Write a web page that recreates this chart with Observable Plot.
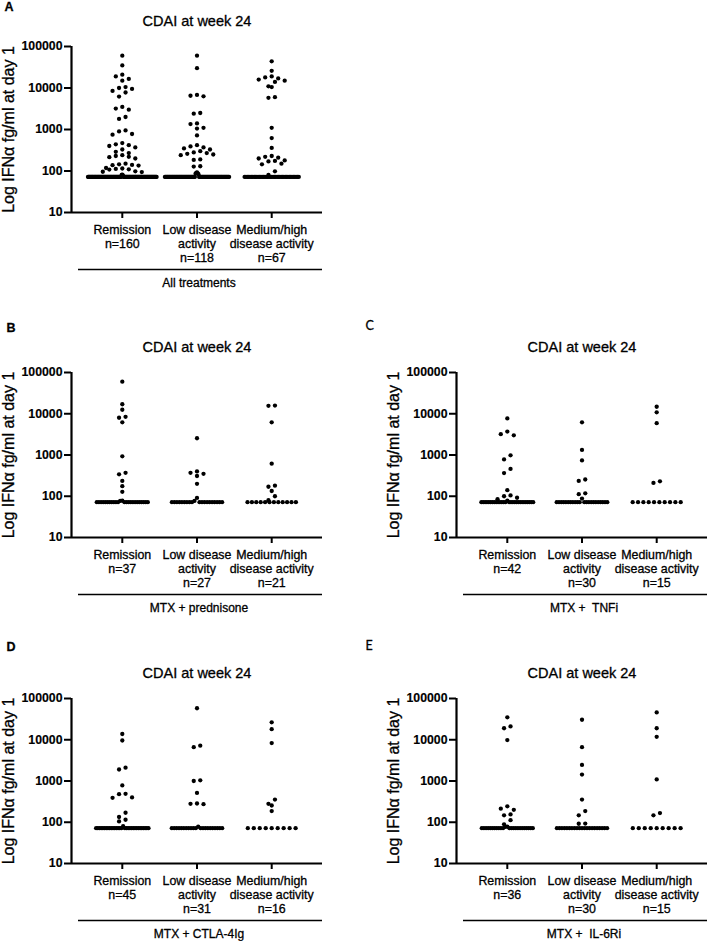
<!DOCTYPE html>
<html><head><meta charset="utf-8">
<script src="https://cdn.jsdelivr.net/npm/d3@7"></script>
<script src="https://cdn.jsdelivr.net/npm/@observablehq/plot@0.6"></script>
<style>
html,body{margin:0;padding:0;background:#fff;}
#root{position:relative;width:709px;height:941px;overflow:hidden;background:#fff;}
.panel{position:absolute;}
.panel svg{overflow:visible;display:block;}
.panel svg text{paint-order:stroke;stroke:#000;stroke-width:0.3px;}
.panel svg [aria-label="y-axis tick label"]{font-weight:bold;}
.panel svg [aria-label="y-axis tick label"] text{stroke-width:0.15px;}
</style></head><body><div id="root"></div>
<script>
// ---------- data ----------
const categories = ["Remission", "Low disease\nactivity", "Medium/high\ndisease activity"];
const yTicks = [10, 100, 1000, 10000, 100000];
const chartTitle = "CDAI at week 24";
const yLabel = "Log IFNα fg/ml at day 1";
const LLOQ = 72; // values at the lower limit are drawn on this line

// A: All treatments
const allN = [160, 118, 67];
const allRemission = [60000, 35000, 21000, 19000, 16500, 15000, 10500, 10000, 9500, 8500, 7800, 6200, 3500, 3200, 3000, 2000, 1800, 950, 900, 780, 750, 470, 440, 420, 400, 370, 330, 290, 270, 240, 230, 220, 215, 200, 150, 145, 140, 138, 135, 118, 115, 112, 110, 108, 98, 96, 94, 82, 80, 78];
const allLow = [60000, 30000, 6800, 6500, 6300, 2500, 2400, 1400, 1350, 1100, 1050, 720, 420, 390, 370, 350, 330, 300, 280, 270, 260, 250, 240, 190, 185, 130, 128, 92, 90, 88, 86, 84];
const allMedHigh = [44000, 26000, 19000, 18000, 17000, 16000, 15000, 14000, 11000, 10500, 6000, 5800, 1100, 620, 360, 230, 220, 210, 200, 180, 175, 170, 150, 145, 98, 80];

// B: MTX + prednisone
const predN = [37, 27, 21];
const predRemission = [60000, 17000, 12500, 8400, 8000, 6200, 930, 370, 340, 235, 175, 128, 78, 77];
const predLow = [2550, 400, 370, 350, 310, 200, 91, 77];
const predMedHigh = [15800, 15600, 6200, 615, 180, 170, 134, 100, 80];

// C: MTX + TNFi
const tnfN = [42, 30, 15];
const tnfRemission = [7700, 3700, 3200, 3000, 980, 780, 460, 365, 140, 105, 100, 92, 85, 78];
const tnfLow = [6200, 1330, 740, 255, 235, 118, 112, 88];
const tnfMedHigh = [14800, 10800, 5900, 230, 210];

// D: MTX + CTLA-4Ig
const ctlaN = [45, 31, 16];
const ctlaRemission = [13800, 9600, 2100, 1900, 780, 490, 480, 400, 390, 170, 134, 115, 105, 80];
const ctlaLow = [58000, 7200, 6600, 1040, 1000, 515, 285, 280, 275, 78];
const ctlaMedHigh = [26500, 18000, 8300, 355, 280, 255, 187];

// E: MTX + IL-6Ri
const il6N = [36, 30, 15];
const il6Remission = [35000, 21000, 19000, 9800, 243, 213, 200, 155, 147, 112, 89, 78, 77];
const il6Low = [30500, 6600, 2450, 1430, 355, 187, 147, 93, 92];
const il6MedHigh = [46000, 19000, 11800, 1090, 167, 147];

const panels = [
  {letter: "A", treatment: "All treatments", n: allN, series: [allRemission, allLow, allMedHigh]},
  {letter: "B", treatment: "MTX + prednisone", n: predN, series: [predRemission, predLow, predMedHigh]},
  {letter: "C", treatment: "MTX +  TNFi", n: tnfN, series: [tnfRemission, tnfLow, tnfMedHigh]},
  {letter: "D", treatment: "MTX + CTLA-4Ig", n: ctlaN, series: [ctlaRemission, ctlaLow, ctlaMedHigh]},
  {letter: "E", treatment: "MTX +  IL-6Ri", n: il6N, series: [il6Remission, il6Low, il6MedHigh]}
];

// ---------- layout ----------
const X0 = -0.68, X1 = 2.68;
const FRAME_W = 251;
const layouts = [
  {left: 0,   top: 0,   width: 355, ml: 71,  mr: 33, mt: 46, fh: 166, mb: 80, letterDx: -67, letterDy: -40, letterFont: '"Liberation Sans", Arial, sans-serif', letterWeight: "bold"},
  {left: 0,   top: 300, width: 355, ml: 71,  mr: 33, mt: 72, fh: 165, mb: 80, letterDx: -65, letterDy: -45, letterFont: '"Liberation Sans", Arial, sans-serif', letterWeight: "bold"},
  {left: 355, top: 300, width: 354, ml: 101, mr: 2,  mt: 72, fh: 165, mb: 80, letterDx: -91, letterDy: -47, letterFont: 'Lato, "Open Sans", sans-serif', letterWeight: "normal"},
  {left: 0,   top: 620, width: 355, ml: 71,  mr: 33, mt: 78, fh: 165, mb: 78, letterDx: -65, letterDy: -52, letterFont: '"Liberation Sans", Arial, sans-serif', letterWeight: "bold"},
  {left: 355, top: 620, width: 354, ml: 101, mr: 2,  mt: 78, fh: 165, mb: 78, letterDx: -91, letterDy: -53, letterFont: 'Lato, "Open Sans", sans-serif', letterWeight: "normal"}
];

const DOT_GAP = 6.5, ROW_GAP = 4.5;

function scatterPoints(series, ns, frameH) {
  const pxPerUnit = FRAME_W / (X1 - X0);
  const ypx = v => frameH * (Math.log10(v) - 1) / 4;
  const pts = [];
  series.forEach((vals, ci) => {
    const all = vals.concat(Array(Math.max(0, ns[ci] - vals.length)).fill(LLOQ)).sort((a, b) => b - a);
    const rows = [];
    for (const v of all) {
      const r = rows[rows.length - 1];
      if (r && ypx(r[0]) - ypx(v) < ROW_GAP) r.push(v); else rows.push([v]);
    }
    for (const r of rows) {
      const k = r.length;
      const maxW = 46 + 0.2 * k;
      const s = k > 1 ? Math.min(DOT_GAP, maxW / (k - 1)) : 0;
      const ordered = [];
      r.forEach((v, i) => { if (i % 2 === 0) ordered.push(v); else ordered.unshift(v); });
      ordered.forEach((v, i) => pts.push({cat: ci, v, x: ci + (i - (k - 1) / 2) * s / pxPerUnit}));
    }
  });
  return pts;
}

const root = document.getElementById("root");
panels.forEach((p, idx) => {
  const L = layouts[idx];
  const pts = scatterPoints(p.series, p.n, L.fh);
  const underlineStart = X0 + 7 * (X1 - X0) / FRAME_W;
  const svg = Plot.plot({
    width: L.width,
    height: L.mt + L.fh + L.mb,
    marginLeft: L.ml, marginRight: L.mr, marginTop: L.mt, marginBottom: L.mb,
    style: {fontFamily: '"Liberation Sans", Arial, sans-serif', fontSize: "12px", color: "black", background: "white", overflow: "visible"},
    x: {domain: [X0, X1], axis: null},
    y: {type: "log", domain: [10, 100000], axis: null},
    marks: [
      Plot.axisY({ticks: yTicks, tickFormat: d3.format("d"), tickSize: 7, tickPadding: 2, fontSize: 12.3, fontWeight: "bold", strokeWidth: 2, label: null}),
      Plot.axisX({ticks: [0, 1, 2], tickFormat: i => categories[i] + "\nn=" + p.n[i], tickSize: 6, tickPadding: 6, fontSize: 12.4, lineHeight: 1.13, strokeWidth: 2, label: null}),
      Plot.ruleX([X0], {strokeWidth: 2.2}),
      Plot.ruleY([10], {strokeWidth: 2.2}),
      Plot.dot(pts, {x: "x", y: "v", r: 2.15, fill: "black", stroke: "none"}),
      Plot.text([chartTitle], {frameAnchor: "top", lineAnchor: "middle", dy: -25, fontSize: 14.5}),
      Plot.text([yLabel], {frameAnchor: "left", textAnchor: "middle", lineAnchor: "middle", rotate: -90, dx: -63, fontSize: 16}),
      Plot.text([p.letter], {frameAnchor: "top-left", textAnchor: "start", lineAnchor: "middle", dx: L.letterDx, dy: L.letterDy, fontSize: 12.5, fontWeight: L.letterWeight, fontFamily: L.letterFont}),
      Plot.ruleY([{y: 10, a: underlineStart, b: X1}], {y: "y", x1: "a", x2: "b", dy: 57, strokeWidth: 1.3}),
      Plot.text([p.treatment], {frameAnchor: "bottom", lineAnchor: "middle", dy: 71, dx: 2, fontSize: 12})
    ]
  });
  const div = document.createElement("div");
  div.className = "panel";
  div.style.left = L.left + "px";
  div.style.top = L.top + "px";
  div.appendChild(svg);
  root.appendChild(div);
});
</script>
</body></html>
